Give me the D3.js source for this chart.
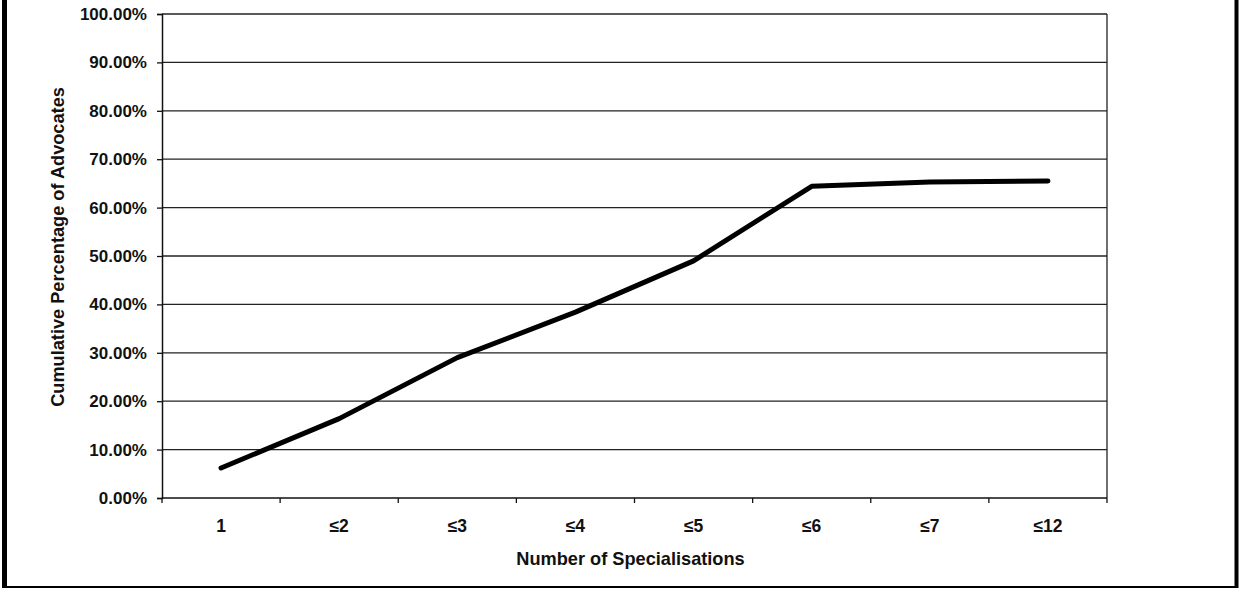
<!DOCTYPE html>
<html>
<head>
<meta charset="utf-8">
<script src="https://cdn.jsdelivr.net/npm/d3@7/dist/d3.min.js"></script>
<style>
  html, body { margin: 0; padding: 0; background: #fff; }
  svg { display: block; }
  text { font-family: "Liberation Sans", Arial, sans-serif; font-weight: bold; fill: #111; }
</style>
</head>
<body>
<svg id="chart" width="1239" height="596"></svg>
<script>
// Cumulative share of advocates by number of specialisations
const categories = ["1", "≤2", "≤3", "≤4", "≤5", "≤6", "≤7", "≤12"];
const cumulativePct = [6.2, 16.4, 29.0, 38.4, 49.0, 64.4, 65.3, 65.5];
const yTicks = [0, 10, 20, 30, 40, 50, 60, 70, 80, 90, 100];

const svg = d3.select("#chart");
const plot = { left: 162, right: 1107, top: 14, bottom: 498 };

// Outer frame (left, right, bottom edges)
svg.append("line").attr("x1", 4.5).attr("x2", 4.5).attr("y1", 0).attr("y2", 588)
  .attr("stroke", "#000").attr("stroke-width", 5);
svg.append("line").attr("x1", 1236.5).attr("x2", 1236.5).attr("y1", 0).attr("y2", 588)
  .attr("stroke", "#000").attr("stroke-width", 4);
svg.append("line").attr("x1", 2).attr("x2", 1238).attr("y1", 587).attr("y2", 587)
  .attr("stroke", "#000").attr("stroke-width", 2);

const x = d3.scaleBand().domain(categories).range([plot.left, plot.right]).paddingInner(0).paddingOuter(0);
const y = d3.scaleLinear().domain([0, 100]).range([plot.bottom, plot.top]);

// Horizontal gridlines
svg.append("g").selectAll("line").data(yTicks.filter(d => d > 0)).join("line")
  .attr("x1", plot.left).attr("x2", plot.right)
  .attr("y1", d => y(d)).attr("y2", d => y(d))
  .attr("stroke", "#222").attr("stroke-width", 1.3);

// Right edge of plot area
svg.append("line").attr("x1", plot.right).attr("x2", plot.right)
  .attr("y1", plot.top).attr("y2", plot.bottom)
  .attr("stroke", "#222").attr("stroke-width", 1.3);

// Y axis
const yAxis = d3.axisLeft(y).tickValues(yTicks).tickSize(5).tickPadding(10)
  .tickFormat(d => d.toFixed(2) + "%");
const gy = svg.append("g").attr("transform", `translate(${plot.left},0)`).call(yAxis);
gy.select(".domain").attr("stroke", "#111").attr("stroke-width", 1.5);
gy.selectAll(".tick line").attr("stroke", "#111").attr("stroke-width", 1.3);
gy.selectAll(".tick text").style("font-size", "17px").attr("fill", "#111");

// X axis: ticks between categories, labels centred
const gx = svg.append("g").attr("transform", `translate(0,${plot.bottom})`);
gx.append("line").attr("x1", plot.left).attr("x2", plot.right).attr("y1", 0).attr("y2", 0)
  .attr("stroke", "#111").attr("stroke-width", 1.5);
const boundaries = categories.map(c => x(c)).concat([plot.right]);
gx.selectAll("line.tk").data(boundaries).join("line").attr("class", "tk")
  .attr("x1", d => d).attr("x2", d => d).attr("y1", 0).attr("y2", 5)
  .attr("stroke", "#111").attr("stroke-width", 1.3);
gx.selectAll("text").data(categories).join("text")
  .attr("x", d => x(d) + x.bandwidth() / 2).attr("y", 34)
  .attr("text-anchor", "middle").style("font-size", "17.5px").text(d => d);

// Axis titles
svg.append("text").attr("x", (plot.left + plot.right) / 2 - 4).attr("y", 565)
  .attr("text-anchor", "middle").style("font-size", "18.2px").text("Number of Specialisations");
svg.append("text").attr("transform", `translate(64,247) rotate(-90)`)
  .attr("text-anchor", "middle").style("font-size", "18.2px").text("Cumulative Percentage of Advocates");

// Data line
const line = d3.line()
  .x((d, i) => x(categories[i]) + x.bandwidth() / 2)
  .y(d => y(d));
svg.append("path").datum(cumulativePct).attr("d", line)
  .attr("fill", "none").attr("stroke", "#000").attr("stroke-width", 5)
  .attr("stroke-linejoin", "round").attr("stroke-linecap", "round");
</script>
</body>
</html>
